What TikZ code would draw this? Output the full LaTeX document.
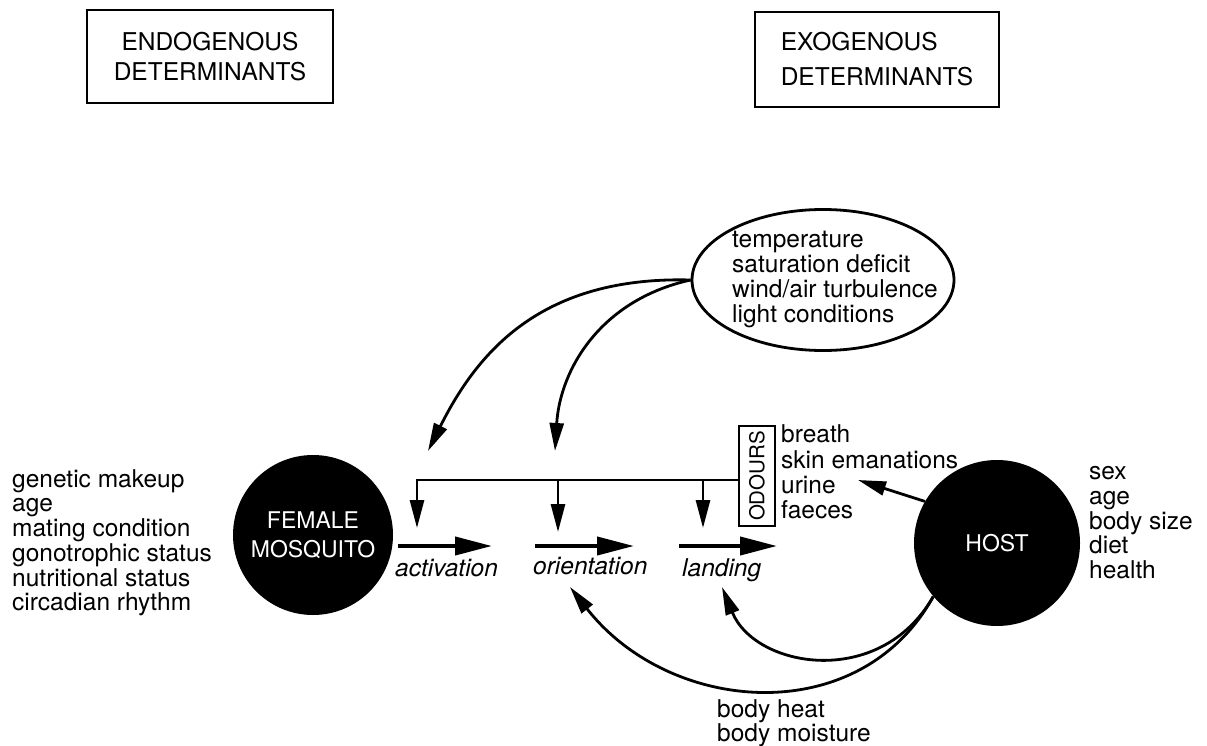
\documentclass[tikz,border=0pt]{standalone}
\usepackage{fontspec}
\setmainfont{TeX Gyre Heros}
\usetikzlibrary{arrows.meta,shapes.geometric}
\begin{document}
\begin{tikzpicture}[x=1pt,y=-1pt,
  every node/.style={font=\fontsize{24.5}{24.75}\selectfont, inner sep=0pt},
  detbox/.style={draw, line width=2.2pt, minimum width=#1, minimum height=93pt},
  blob/.style={circle, fill=black, text=white, minimum size=#1},
  lst/.style={anchor=north west, align=left},
  lbl/.style={anchor=base west, font=\fontsize{24.5}{24.75}\selectfont\itshape},
  head/.style={-{Triangle[length=28pt,width=14pt]}, line width=2.8pt},
  bighead/.style={-{Triangle[length=37pt,width=18pt]}, line width=4pt}]
\useasboundingbox (0,0) rectangle (1207,746);

% determinant boxes
\node[detbox=246pt, align=center, font=\fontsize{24.5}{30}\selectfont] (endo) at (210,56.5) {ENDOGENOUS\\DETERMINANTS};
\node[detbox=244pt, minimum height=95pt, align=left, font=\fontsize{24.5}{35}\selectfont] (exo) at (877,59.5) {EXOGENOUS\\DETERMINANTS};

% environment ellipse
\node[ellipse, draw, line width=2.8pt, minimum width=262pt, minimum height=141pt] (env) at (823,280) {};
\node[lst, font=\fontsize{24.5}{25}\selectfont] (envtext) at (732,231) {temperature\\saturation deficit\\wind/air turbulence\\light conditions};

% mosquito and host
\node[blob=160pt, font=\fontsize{23}{29}\selectfont, align=center] (fem) at (313,535) {FEMALE\\MOSQUITO};
\node[blob=166pt, font=\fontsize{23}{23}\selectfont] (host) at (997,543) {HOST};

\node[lst] (endlist) at (12,469) {\strut genetic makeup\\age\\mating condition\\gonotrophic status\\nutritional status\\circadian rhythm};
\node[lst] (hostlist) at (1089,462) {\strut sex\\age\\body size\\diet\\health};

% odours
\node[draw, line width=2.4pt, rotate=90, minimum width=100pt, minimum height=36pt, font=\fontsize{20.5}{20.5}\selectfont] (odours) at (757,476) {ODOURS};
\node[lst, font=\fontsize{24.5}{25}\selectfont] (odlist) at (781,424) {\strut breath\\skin emanations\\urine\\faeces};

% stage labels
\node[lbl] (act) at (395,576.4) {activation};
\node[lbl] (ori) at (533,574.4) {orientation};
\node[lbl] (lan) at (682,576.4) {landing};

\node[lst, font=\fontsize{24.5}{24}\selectfont] (bodyt) at (717,699) {body heat\\body moisture};

% process arrows
\coordinate (a1s) at (398,546); \coordinate (a1e) at (492,546);
\coordinate (a2s) at (535,546); \coordinate (a2e) at (634,546);
\coordinate (a3s) at (679,546); \coordinate (a3e) at (777,546);
\draw[bighead] (a1s) -- (a1e);
\draw[bighead] (a2s) -- (a2e);
\draw[bighead] (a3s) -- (a3e);

% odour distribution bar
\coordinate (barR) at (odours.north |- 0,480);
\coordinate (j1) at (417,480); \coordinate (t1) at (417,528);
\coordinate (j2) at (558,480); \coordinate (t2) at (558,532);
\coordinate (j3) at (703,480); \coordinate (t3) at (703,528);
\draw[head] (barR) -- (j1) -- (t1);
\draw[head] (j2) -- (t2);
\draw[head] (j3) -- (t3);

% environment influences
\coordinate (e1tip) at (428,451);
\coordinate (e2tip) at (555,451);
\draw[head] (env.west) .. controls (542,276) and (478,351) .. (e1tip);
\draw[head] (env.west) .. controls (600,300) and (560,370) .. (e2tip);

% host to odours
\coordinate (otip) at (858,480);
\draw[head] (host.150) -- (otip);

% body heat / moisture
\coordinate (ltip) at (722,587);
\coordinate (oritip) at (570,587);
\draw[head] (host.220) .. controls (880,690) and (755,668) .. (ltip);
\draw[head] (host.220) .. controls (860,730) and (670,715) .. (oritip);
\end{tikzpicture}
\end{document}
